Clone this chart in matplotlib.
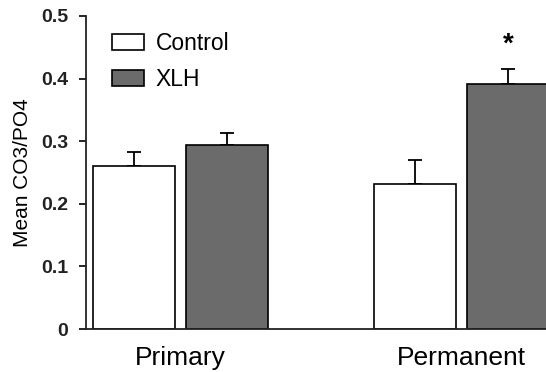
import matplotlib
matplotlib.use("Agg")
import matplotlib.pyplot as plt
import numpy as np

plt.rcParams['font.family'] = ['Liberation Sans', 'DejaVu Sans']

categories = ["Primary", "Permanent"]
series_names = ["Control", "XLH"]
control_vals = [0.260, 0.232]
control_err = [0.023, 0.038]
xlh_vals = [0.294, 0.391]
xlh_err = [0.019, 0.024]
yticks = [0, 0.1, 0.2, 0.3, 0.4, 0.5]
ytick_labels = ["0", "0.1", "0.2", "0.3", "0.4", "0.5"]
significant = [False, True]

fig = plt.figure(figsize=(5.46, 3.72), dpi=100)
ax = fig.add_axes([86/546, 43/372, 1 - 86/546, (329-16)/372])

x = np.arange(len(categories))
w = 0.292
off = 0.165
lw = 1.2
ax.bar(x - off, control_vals, w, color="white", edgecolor="black", linewidth=lw,
       label=series_names[0], zorder=2)
ax.bar(x + off, xlh_vals, w, color="#6b6b6b", edgecolor="black", linewidth=lw,
       label=series_names[1], zorder=2)
ax.errorbar(x - off, control_vals, yerr=[np.zeros(2), control_err], fmt="none",
            ecolor="black", elinewidth=1.3, capsize=5, capthick=1.3, zorder=1)
ax.errorbar(x + off, xlh_vals, yerr=[np.zeros(2), xlh_err], fmt="none",
            ecolor="black", elinewidth=1.3, capsize=5, capthick=1.3, zorder=1)

for i, sig in enumerate(significant):
    if sig:
        ax.text(x[i] + off, xlh_vals[i] + xlh_err[i] + 0.04, "*", ha="center",
                va="center", fontsize=20, fontweight="bold")

ax.set_xlim(-0.336, 1.30)
ax.set_ylim(0, 0.5)
ax.set_yticks(yticks)
ax.set_yticklabels(ytick_labels, fontsize=14, fontweight="bold", color="#222222")
ax.set_xticks(x)
ax.set_xticklabels(categories, fontsize=19)
ax.tick_params(axis="x", length=0, pad=12)
ax.tick_params(axis="y", length=5, width=1.2, direction="out", pad=8)
ax.set_ylabel("Mean CO3/PO4", fontsize=15, labelpad=6)
for s in ["top", "right"]:
    ax.spines[s].set_visible(False)
for s in ["left", "bottom"]:
    ax.spines[s].set_linewidth(1.3)
    ax.spines[s].set_color("#222222")

ax.legend(loc="upper left", bbox_to_anchor=(112/546, 1 - 32/372),
          bbox_transform=fig.transFigure, frameon=False, fontsize=16.5,
          handlelength=1.4, handleheight=0.7, handletextpad=0.5,
          labelspacing=0.55, borderpad=0, borderaxespad=0)

fig.savefig("out.png", dpi=100)
